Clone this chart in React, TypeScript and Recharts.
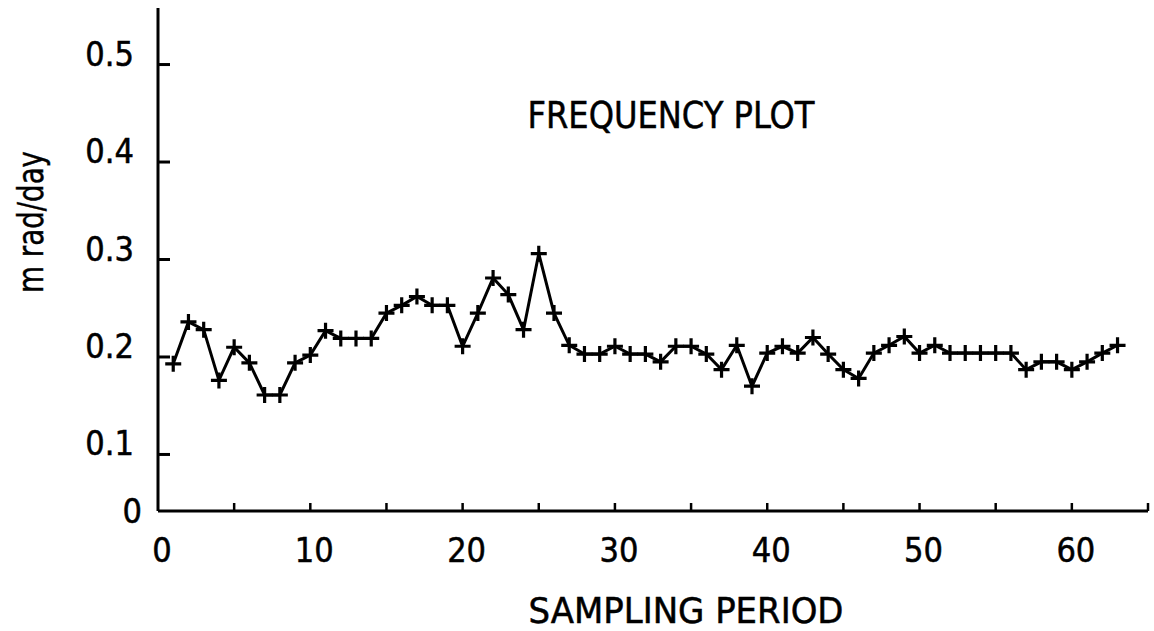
import React from "react";
import { LineChart, Line, XAxis, YAxis } from "recharts";

// sampling periods along the x axis
const periods = [
  1, 2, 3, 4, 5, 6, 7, 8, 9, 10, 11, 12, 13, 14, 15, 16, 17, 18, 19, 20, 21,
  22, 23, 24, 25, 26, 27, 28, 29, 30, 31, 32, 33, 34, 35, 36, 37, 38, 39, 40,
  41, 42, 43, 44, 45, 46, 47, 48, 49, 50, 51, 52, 53, 54, 55, 56, 57, 58, 59,
  60, 61, 62, 63,
];

// frequency, mrad/day
const frequency = [
  0.193, 0.236, 0.228, 0.176, 0.21, 0.194, 0.161, 0.161, 0.194, 0.202, 0.227,
  0.219, 0.219, 0.219, 0.245, 0.253, 0.262, 0.253, 0.253, 0.211, 0.245, 0.281,
  0.264, 0.228, 0.306, 0.245, 0.212, 0.203, 0.203, 0.211, 0.203, 0.203, 0.195,
  0.211, 0.211, 0.203, 0.187, 0.212, 0.17, 0.204, 0.211, 0.204, 0.22, 0.203,
  0.187, 0.178, 0.204, 0.212, 0.221, 0.204, 0.212, 0.204, 0.204, 0.204, 0.204,
  0.204, 0.187, 0.195, 0.195, 0.187, 0.195, 0.204, 0.212,
];

const xTicks = [0, 5, 10, 15, 20, 25, 30, 35, 40, 45, 50, 55, 60, 65];
// the original axis starts its "0" a little above true zero
const yBase = 0.042;
const yTicks = [yBase, 0.1, 0.2, 0.3, 0.4, 0.5];

const data = periods.map((p, i) => ({ period: p, freq: frequency[i] }));

const FONT = '"Liberation Sans Narrow", "DejaVu Sans Condensed", "Liberation Sans", sans-serif';

const YTick = (props: any) => {
  const { x, y, payload } = props;
  const isZero = payload.value < 0.05;
  return (
    <g>
      {!isZero && <line x1={x} y1={y} x2={x + 12} y2={y} stroke="#000" strokeWidth={3} />}
      <text
        x={isZero ? x - 16 : x - 24}
        y={isZero ? y + 12 : y + 1}
        textAnchor="end"
        fontSize={34}
        fontFamily={FONT}
        fill="#000"
        stroke="#000"
        strokeWidth={0.5}
      >
        {isZero ? "0" : payload.value.toFixed(1)}
      </text>
    </g>
  );
};

const XTick = (props: any) => {
  const { x, y, payload } = props;
  const v = payload.value;
  return (
    <g>
      {v > 0 && <line x1={x} y1={y} x2={x} y2={y - 8} stroke="#000" strokeWidth={2.5} />}
      {v % 10 === 0 && (
        <text
          x={x + 4}
          y={y + 51}
          textAnchor="middle"
          fontSize={34}
          fontFamily={FONT}
          fill="#000"
          stroke="#000"
          strokeWidth={0.5}
        >
          {v}
        </text>
      )}
    </g>
  );
};

const Cross = (props: any) => {
  const { cx, cy, index } = props;
  if (cx == null || cy == null) return <g key={index} />;
  return (
    <path
      key={index}
      d={`M${cx - 8},${cy} H${cx + 8} M${cx},${cy - 8} V${cy + 8}`}
      stroke="#000"
      strokeWidth={3.2}
      fill="none"
    />
  );
};

export default function App() {
  return (
    <div style={{ position: "absolute", left: 0, top: 0, width: 1154, height: 631, background: "#fff" }}>
      <LineChart width={1154} height={631} data={data} margin={{ top: 8, right: 6, bottom: 0, left: 0 }}>
        <XAxis
          type="number"
          dataKey="period"
          domain={[0, 65]}
          ticks={xTicks}
          interval={0}
          height={120}
          tickSize={0}
          tickMargin={0}
          tick={<XTick />}
          axisLine={{ stroke: "#000", strokeWidth: 3 }}
        />
        <YAxis
          type="number"
          domain={[yBase, 0.558]}
          ticks={yTicks}
          interval={0}
          width={158}
          tickSize={0}
          tickMargin={0}
          tick={<YTick />}
          axisLine={{ stroke: "#000", strokeWidth: 3 }}
          allowDataOverflow
        />
        <Line
          type="linear"
          dataKey="freq"
          stroke="#000"
          strokeWidth={3}
          dot={Cross}
          activeDot={false}
          isAnimationActive={false}
        />
      </LineChart>
      <svg width={1154} height={631} style={{ position: "absolute", left: 0, top: 0, pointerEvents: "none" }}>
        <text x={671} y={128} textAnchor="middle" fontSize={38} fontFamily={FONT} fill="#000" stroke="#000" strokeWidth={0.5} textLength={287} lengthAdjust="spacingAndGlyphs">
          FREQUENCY PLOT
        </text>
        <text x={686} y={623} textAnchor="middle" fontSize={36} fontFamily={FONT} fill="#000" stroke="#000" strokeWidth={0.5} textLength={315} lengthAdjust="spacingAndGlyphs">
          SAMPLING PERIOD
        </text>
        <text
          transform="translate(43, 222) rotate(-90)"
          textAnchor="middle"
          fontSize={36}
          fontFamily={FONT}
          fill="#000"
          stroke="#000"
          strokeWidth={0.4}
          textLength={142}
          lengthAdjust="spacingAndGlyphs"
        >
          m rad/day
        </text>
      </svg>
    </div>
  );
}
